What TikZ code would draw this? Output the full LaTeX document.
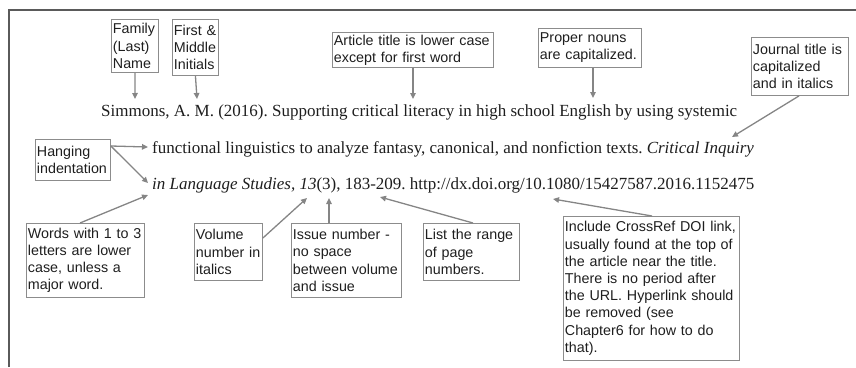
\documentclass[tikz,border=0pt]{standalone}
\usepackage{fontspec}
\setmainfont{Liberation Serif}
\newfontfamily\labfont{Liberation Sans}
\usetikzlibrary{arrows.meta}
\frenchspacing
\definecolor{framec}{HTML}{5A5A5A}
\definecolor{boxc}{HTML}{8C8C8C}
\definecolor{arrc}{HTML}{858585}
\definecolor{txtc}{HTML}{1E1E1E}
\tikzset{
  lbox/.style={draw=boxc, line width=0.9pt, text=txtc, align=left, anchor=north west,
    inner sep=1.5pt, font=\labfont\fontsize{14.3}{17.2}\selectfont},
  pointer/.style={draw=arrc, line width=1.3pt, -{Triangle[length=6pt,width=5.5pt]}},
  cite/.style={anchor=base west, inner sep=0pt, text=txtc, font=\fontsize{17.0}{20}\selectfont}
}
\newcommand{\bx}[6]{\node[lbox, minimum width=#4pt, minimum height=#5pt, text width=#4pt-3pt] (#1) at (#2,#3) {#6};}
\begin{document}
\begin{tikzpicture}[x=1pt,y=-1pt]
\useasboundingbox (0,0) rectangle (856,367);
% frame
\draw[framec, line width=2pt] (9,367) -- (9,10) -- (856,10);
% citation lines
\node[cite] (l1) at (101,116) {Simmons, A. M. (2016). Supporting critical literacy in high school English by using systemic};
\node[cite] (l2) at (152,153) {functional linguistics to analyze fantasy, canonical, and nonfiction texts. \textit{Critical Inquiry}};
\node[cite] (l3) at (152,189) {\textit{in Language Studies, 13}(3), 183-209. http://dx.doi.org/10.1080/15427587.2016.1152475};
% boxes
\bx{fam}{111}{19}{47}{53}{Family\\(Last)\\Name}
\bx{ini}{172}{19}{46}{56}{First \&\\Middle\\Initials}
\bx{art}{332}{32}{161}{35}{Article title is lower case\\except for first word}
\bx{prop}{538}{28}{103}{39}{Proper nouns\\are capitalized.}
\bx{jour}{751}{37}{97}{58}{Journal title is\\capitalized\\and in italics}
\bx{hang}{35}{139}{75}{41}{Hanging\\indentation}
\bx{words}{26}{223}{118}{74}{Words with 1 to 3\\letters are lower\\case, unless a\\major word.}
\bx{vol}{194}{223}{68}{57}{Volume\\number in\\italics}
\bx{iss}{291}{223}{110}{74}{Issue number -\\no space\\between volume\\and issue}
\bx{list}{423}{223}{96}{57}{List the range\\of page\\numbers.}
\bx{incl}{563}{216}{176}{144}{Include CrossRef DOI link,\\usually found at the top of\\the article near the title.\\There is no period after\\the URL. Hyperlink should\\be removed (see\\Chapter6 for how to do\\that).}
% targets
\coordinate (tFam) at (135,99);
\coordinate (tIni) at (197,99);
\coordinate (tArt) at (413,99);
\coordinate (tProp) at (593,98);
\coordinate (tJour) at (732,137);
\coordinate (tHang1) at (148,147);
\coordinate (tHang2) at (148,183);
\coordinate (tWords) at (148,195);
\coordinate (tVol) at (307,198);
\coordinate (tIss) at (329,198);
\coordinate (tList) at (380,197);
\coordinate (tIncl) at (553,199);
% arrows
\draw[pointer] (fam.south) -- (tFam);
\draw[pointer] (ini.south) -- (tIni);
\draw[pointer] (art.south -| tArt) -- (tArt);
\draw[pointer] (prop.south -| tProp) -- (tProp);
\draw[pointer] ([xshift=48pt]jour.south west) -- (tJour);
\draw[pointer] ([yshift=-7pt]hang.north east) -- (tHang1);
\draw[pointer] ([yshift=-7pt]hang.north east) -- (tHang2);
\draw[pointer] ([xshift=54pt]words.north west) -- (tWords);
\draw[pointer] ([yshift=-15pt]vol.north east) -- (tVol);
\draw[pointer] (iss.north -| tIss) -- (tIss);
\draw[pointer] ([xshift=50pt]list.north west) -- (tList);
\draw[pointer] ([xshift=89pt]incl.north west) -- (tIncl);
\end{tikzpicture}
\end{document}
